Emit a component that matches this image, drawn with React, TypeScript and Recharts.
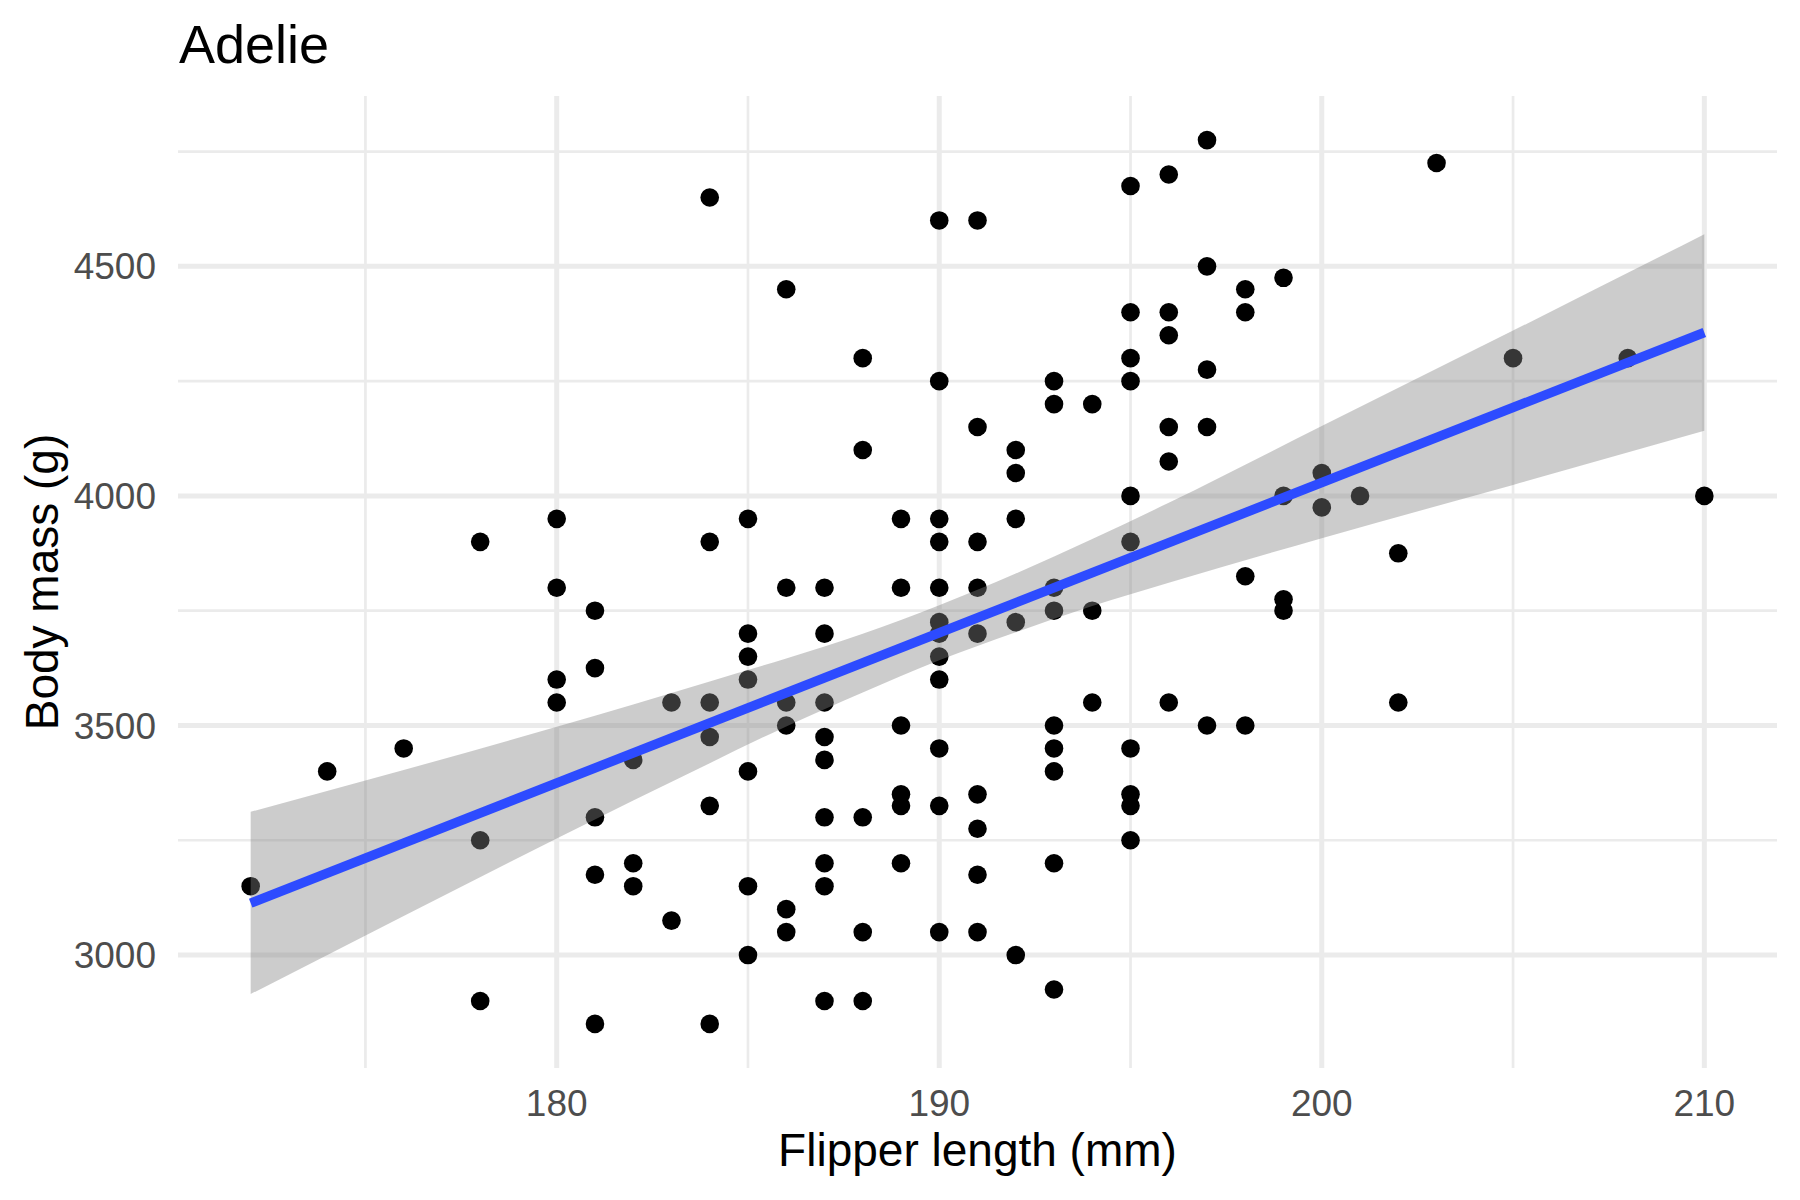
import React from 'react';
import {
  ComposedChart,
  Scatter,
  Area,
  Line,
  XAxis,
  YAxis,
  CartesianGrid,
} from 'recharts';

const flipperLength = [
  172,
  174,
  176,
  178, 178, 178,
  180, 180, 180, 180,
  181, 181, 181, 181, 181,
  182, 182, 182,
  183, 183,
  184, 184, 184, 184, 184, 184,
  185, 185, 185, 185, 185, 185, 185,
  186, 186, 186, 186, 186, 186,
  187, 187, 187, 187, 187, 187, 187, 187, 187,
  188, 188, 188, 188, 188,
  189, 189, 189, 189, 189, 189,
  190, 190, 190, 190, 190, 190, 190, 190, 190, 190, 190, 190,
  191, 191, 191, 191, 191, 191, 191, 191, 191,
  192, 192, 192, 192, 192,
  193, 193, 193, 193, 193, 193, 193, 193, 193,
  194, 194, 194,
  195, 195, 195, 195, 195, 195, 195, 195, 195, 195,
  196, 196, 196, 196, 196, 196,
  197, 197, 197, 197, 197,
  198, 198, 198, 198,
  199, 199, 199, 199,
  200, 200,
  201,
  202, 202,
  203,
  205,
  208,
  210,
];

const bodyMass = [
  3150,
  3400,
  3450,
  3900, 3250, 2900,
  3950, 3800, 3600, 3550,
  3750, 3625, 3300, 3175, 2850,
  3425, 3200, 3150,
  3550, 3075,
  4650, 3900, 3550, 3475, 3325, 2850,
  3950, 3700, 3650, 3600, 3400, 3150, 3000,
  4450, 3800, 3550, 3500, 3100, 3050,
  3800, 3700, 3550, 3475, 3425, 3300, 3200, 3150, 2900,
  4300, 4100, 3300, 3050, 2900,
  3950, 3800, 3500, 3350, 3325, 3200,
  4600, 4250, 3950, 3900, 3800, 3725, 3700, 3650, 3600, 3450, 3325, 3050,
  4600, 4150, 3900, 3800, 3700, 3350, 3275, 3175, 3050,
  4100, 4050, 3950, 3725, 3000,
  4250, 4200, 3800, 3750, 3500, 3450, 3400, 3200, 2925,
  4200, 3750, 3550,
  4675, 4400, 4300, 4250, 4000, 3900, 3450, 3350, 3325, 3250,
  4700, 4400, 4350, 4150, 4075, 3550,
  4775, 4500, 4275, 4150, 3500,
  4450, 4400, 3825, 3500,
  4475, 4000, 3775, 3750,
  4050, 3975,
  4000,
  3875, 3550,
  4725,
  4300,
  4300,
  4000,
];

// Fitted line and confidence band
const bandX = [172, 176, 180, 184, 186, 188, 190, 192, 194, 196, 200, 205, 210];
const bandLow = [2915, 3085, 3254, 3418, 3498, 3572, 3642, 3703, 3760, 3811, 3908, 4024, 4142];
const bandHigh = [3312, 3403, 3497, 3596, 3646, 3700, 3762, 3831, 3906, 3985, 4152, 4360, 4570];
const fitX = [172, 210];
const fitY = [3113, 4356];

const xMajor = [180, 190, 200, 210];
const xMinor = [175, 185, 195, 205];
const yMajor = [3000, 3500, 4000, 4500];
const yMinor = [3250, 3750, 4250, 4750];

const points = flipperLength.map((x, i) => ({ x, y: bodyMass[i] }));
const band = bandX.map((x, i) => ({ x, y: [bandLow[i], bandHigh[i]] }));
const fit = fitX.map((x, i) => ({ x, y: fitY[i] }));

const FONT = '"Liberation Sans", Arial, Helvetica, sans-serif';
const GRID = '#EBEBEB';

const Dot = (p: any) => <circle cx={p.cx} cy={p.cy} r={9.3} fill="#000000" />;

export default function App() {
  return (
    <div
      style={{
        position: 'absolute',
        left: 0,
        top: 0,
        width: 1800,
        height: 1200,
        background: '#ffffff',
      }}
    >
      <ComposedChart
        width={1800}
        height={1200}
        margin={{ top: 96, right: 23, bottom: 72, left: 78 }}
      >
        <CartesianGrid
          horizontalValues={yMinor}
          verticalValues={xMinor}
          stroke={GRID}
          strokeWidth={2.7}
        />
        <CartesianGrid
          horizontalValues={yMajor}
          verticalValues={xMajor}
          stroke={GRID}
          strokeWidth={5}
        />
        <XAxis
          type="number"
          dataKey="x"
          domain={[170.1, 211.9]}
          allowDataOverflow
          ticks={xMajor}
          interval={0}
          axisLine={false}
          tickLine={false}
          tickSize={0}
          tickMargin={22}
          height={60}
          tick={{ fontSize: 37, fill: '#4D4D4D', fontFamily: FONT }}
        />
        <YAxis
          type="number"
          dataKey="y"
          domain={[2754, 4871]}
          allowDataOverflow
          ticks={yMajor}
          interval={0}
          axisLine={false}
          tickLine={false}
          tickSize={0}
          tickMargin={22}
          width={100}
          tick={{ fontSize: 37, fill: '#4D4D4D', fontFamily: FONT }}
        />
        <Scatter
          data={points}
          dataKey="y"
          fill="#000000"
          shape={Dot}
          isAnimationActive={false}
          zIndex={50}
        />
        <Area
          data={band}
          dataKey="y"
          type="monotone"
          fill="#848484"
          fillOpacity={0.41}
          stroke="none"
          isAnimationActive={false}
          dot={false}
          activeDot={false}
        />
        <Line
          data={fit}
          dataKey="y"
          type="linear"
          stroke="#2D4BFF"
          strokeWidth={9.5}
          dot={false}
          activeDot={false}
          isAnimationActive={false}
        />
      </ComposedChart>
      <svg
        width={1800}
        height={1200}
        style={{ position: 'absolute', left: 0, top: 0, pointerEvents: 'none' }}
      >
        <text x={179} y={63} fontSize={54} fontFamily={FONT} fill="#000000">
          Adelie
        </text>
        <text
          x={977.5}
          y={1166}
          fontSize={46}
          fontFamily={FONT}
          fill="#000000"
          textAnchor="middle"
        >
          Flipper length (mm)
        </text>
        <text
          transform="translate(58,582) rotate(-90)"
          fontSize={46}
          fontFamily={FONT}
          fill="#000000"
          textAnchor="middle"
        >
          Body mass (g)
        </text>
      </svg>
    </div>
  );
}
